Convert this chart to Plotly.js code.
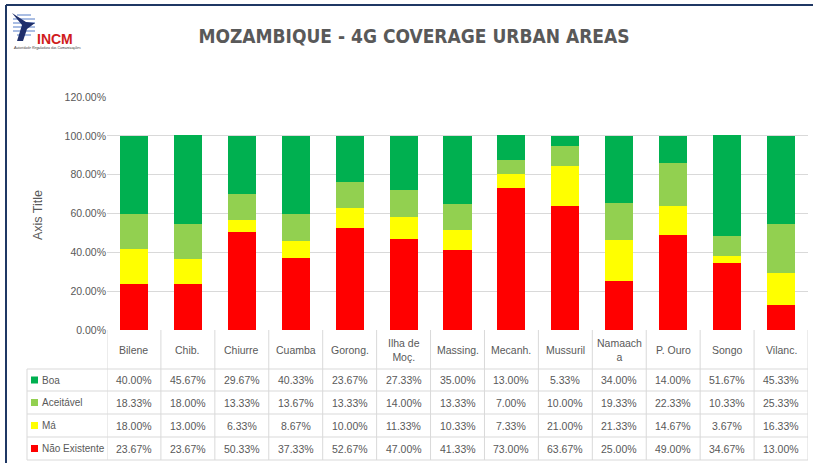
<!DOCTYPE html>
<html>
<head>
<meta charset="utf-8">
<script src="https://cdn.plot.ly/plotly-3.0.1.min.js"></script>
<style>html,body{margin:0;padding:0;background:#fff;}#chart{width:813px;height:463px;}</style>
</head>
<body>
<div id="chart"></div>
<script>
const categories = ["Bilene","Chib.","Chiurre","Cuamba","Gorong.","Ilha de<br>Moç.","Massing.","Mecanh.","Mussuril","Namaach<br>a","P. Ouro","Songo","Vilanc."];
const boa        = [40.00,45.67,29.67,40.33,23.67,27.33,35.00,13.00,5.33,34.00,14.00,51.67,45.33];
const aceitavel  = [18.33,18.00,13.33,13.67,13.33,14.00,13.33,7.00,10.00,19.33,22.33,10.33,25.33];
const ma         = [18.00,13.00,6.33,8.67,10.00,11.33,10.33,7.33,21.00,21.33,14.67,3.67,16.33];
const naoExist   = [23.67,23.67,50.33,37.33,52.67,47.00,41.33,73.00,63.67,25.00,49.00,34.67,13.00];
const seriesNames = ["Boa","Aceitável","Má","Não Existente"];
const seriesColors = ["#00b050","#92d050","#ffff00","#ff0000"];

// geometry helpers (pixels -> paper)
const L = 107, R = 808, T = 97, B = 330;
const px = v => (v - L) / (R - L);
const py = v => (B - v) / (B - T);
const idx = categories.map((_, i) => i);

const txt = '#595959';
const grid = '#d9d9d9';
const font = 'Liberation Sans, Arial, sans-serif';

const seriesVals = [boa, aceitavel, ma, naoExist];
const order = [3, 2, 1, 0]; // bottom to top
const traces = order.map(k => ({
  type: 'bar', x: idx, y: seriesVals[k], name: seriesNames[k],
  marker: {color: seriesColors[k], line: {width: 0}},
  hoverinfo: 'y+name', showlegend: false
}));

const shapes = [];
const annotations = [];
const rowLines = [369, 391, 414, 437, 460];
const rowCenters = [380, 402.5, 425.5, 448.5];
const lineStyle = {color: grid, width: 1};
rowLines.forEach(y => shapes.push({type:'line', xref:'paper', yref:'paper', x0:px(27), x1:px(R), y0:py(y), y1:py(y), line:lineStyle}));
for (let i = 0; i <= categories.length; i++) {
  shapes.push({type:'line', xref:'x', yref:'paper', x0:i-0.5, x1:i-0.5, y0:py(B), y1:py(460), line:lineStyle});
}
shapes.push({type:'line', xref:'paper', yref:'paper', x0:px(27), x1:px(27), y0:py(369), y1:py(460), line:lineStyle});
categories.forEach((c, i) => annotations.push({xref:'x', yref:'paper', x:i, y:py(350), text:c, showarrow:false,
  font:{family:font, size:10.5, color:txt}, align:'center', xanchor:'center', yanchor:'middle'}));
seriesNames.forEach((n, r) => {
  shapes.push({type:'rect', xref:'paper', yref:'paper', x0:px(31), x1:px(38), y0:py(rowCenters[r]-3.5), y1:py(rowCenters[r]+3.5),
    fillcolor: seriesColors[r], line:{width:0}});
  annotations.push({xref:'paper', yref:'paper', x:px(40), y:py(rowCenters[r]), text:n, showarrow:false,
    font:{family:font, size:10, color:txt}, xanchor:'left', yanchor:'middle'});
  seriesVals[r].forEach((v, i) => annotations.push({xref:'x', yref:'paper', x:i, y:py(rowCenters[r]), text:v.toFixed(2)+'%', showarrow:false,
    font:{family:font, size:10.5, color:txt}, xanchor:'center', yanchor:'middle'}));
});
annotations.push({xref:'paper', yref:'paper', x:px(38), y:py(215), text:'Axis Title', textangle:-90, showarrow:false,
  font:{family:font, size:12.5, color:txt}, xanchor:'center', yanchor:'middle'});
// frame border
shapes.push({type:'line', xref:'paper', yref:'paper', x0:px(6), x1:px(6), y0:py(5), y1:py(470), line:{color:'#1f3864', width:2}});
shapes.push({type:'line', xref:'paper', yref:'paper', x0:px(6), x1:px(820), y0:py(5), y1:py(5), line:{color:'#1f3864', width:2}});
// logo
[15,19,23,27,31,35].forEach((y, j) => shapes.push({type:'line', xref:'paper', yref:'paper', x0:px(j===0||j===5?17:13), x1:px(j===0||j===5?31:35), y0:py(y), y1:py(y), line:{color:'#a9bde3', width:2}}));
shapes.push({type:'path', xref:'paper', yref:'paper',
  path:`M ${px(12)} ${py(13)} L ${px(22)} ${py(25)} L ${px(17)} ${py(41)} L ${px(23)} ${py(41)} L ${px(27)} ${py(29)} L ${px(35)} ${py(23)} L ${px(26)} ${py(22)} Z`,
  fillcolor:'#1f2f6b', line:{width:0}});
annotations.push({xref:'paper', yref:'paper', x:px(35), y:py(39), text:'<b>INCM</b>', showarrow:false,
  font:{family:font, size:14, color:'#d01c1c'}, xanchor:'left', yanchor:'middle'});
annotations.push({xref:'paper', yref:'paper', x:px(11), y:py(48), text:'<i>Autoridade Reguladora das Comunicações</i>', showarrow:false,
  font:{family:font, size:3.5, color:'#333'}, xanchor:'left', yanchor:'middle'});

const layout = {
  width: 813, height: 463,
  margin: {l: L, r: 813 - R, t: T, b: 463 - B},
  paper_bgcolor: '#fff', plot_bgcolor: '#fff',
  barmode: 'stack', bargap: 0.48,
  title: {text: '<b>MOZAMBIQUE - 4G COVERAGE URBAN AREAS</b>', xref:'container', yref:'container', x: 414/813, y: 1 - 36/463,
    xanchor:'center', yanchor:'middle', font: {family: 'DejaVu Sans Condensed, Liberation Sans Narrow, sans-serif', size: 19, color: txt}},
  xaxis: {range: [-0.5, categories.length - 0.5], showticklabels: false, showgrid: false, zeroline: false,
    showline: false, ticks: '', fixedrange: true},
  yaxis: {range: [0, 120], dtick: 20, tickformat: '.2f', ticksuffix: '%', showgrid: true, gridcolor: grid, gridwidth: 1,
    zeroline: false, showline: false, ticks: '', tickfont: {family: font, size: 10.5, color: txt}, fixedrange: true},
  shapes, annotations, showlegend: false
};
Plotly.newPlot('chart', traces, layout, {displayModeBar: false, staticPlot: true});
</script>
</body>
</html>
